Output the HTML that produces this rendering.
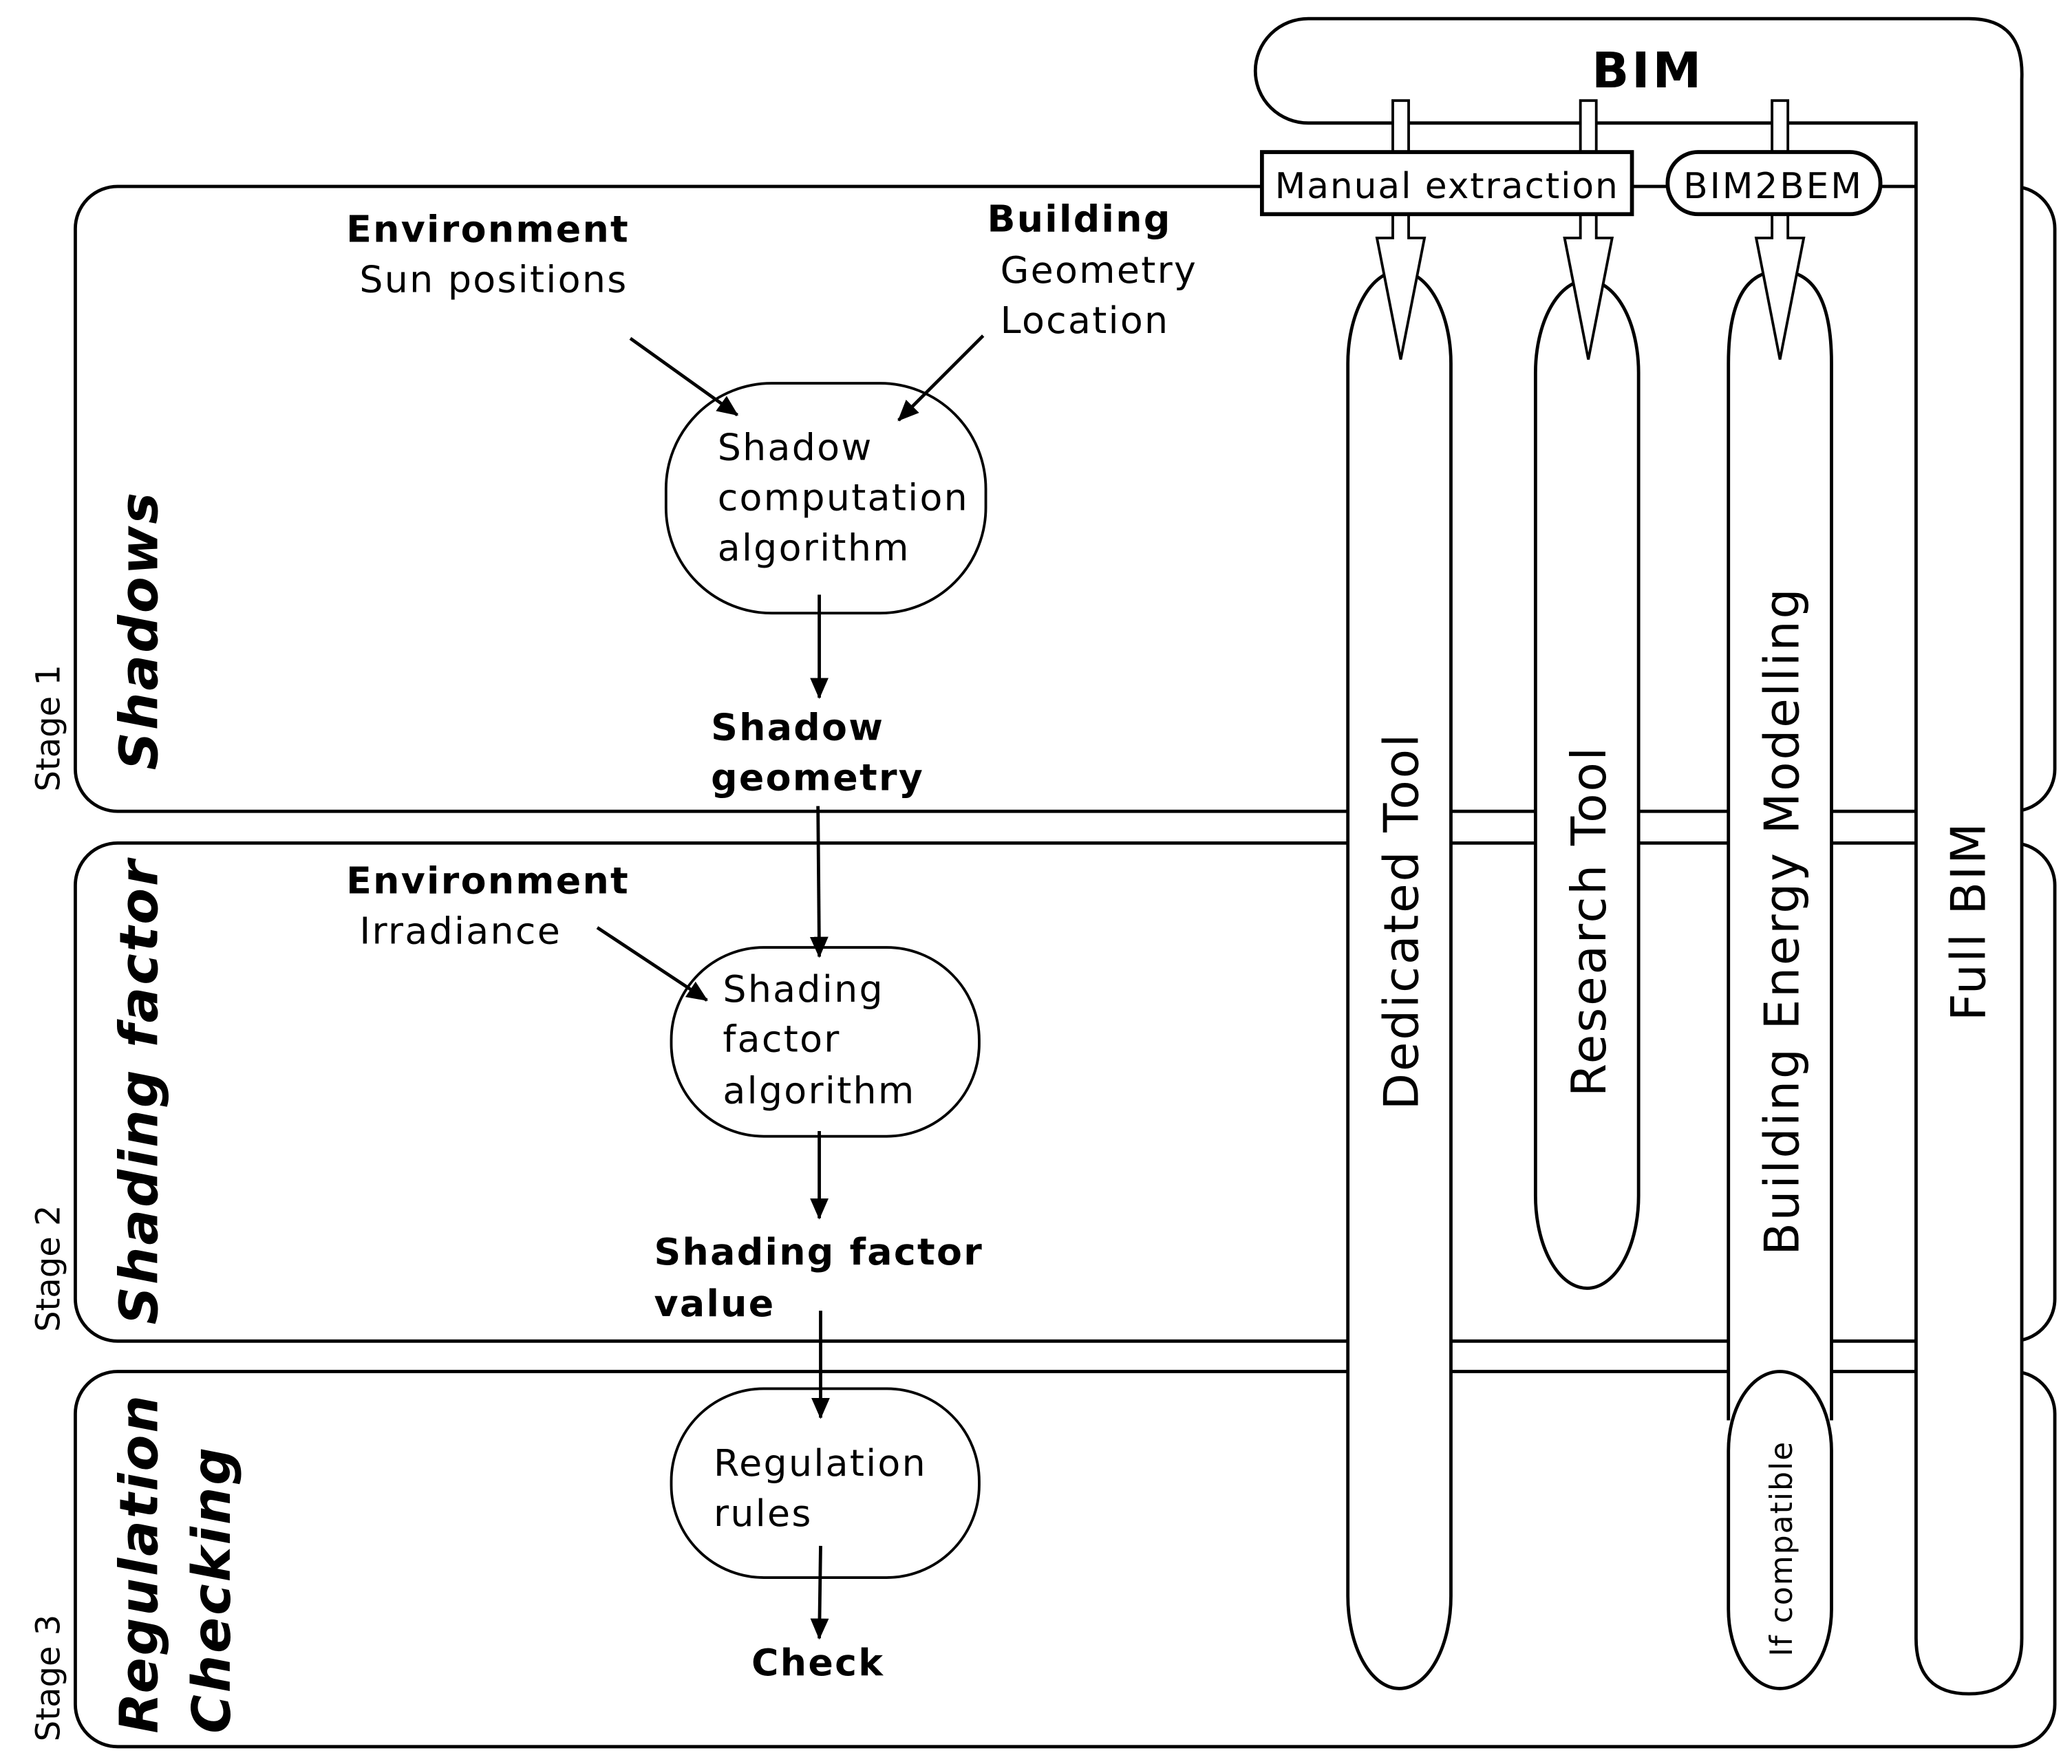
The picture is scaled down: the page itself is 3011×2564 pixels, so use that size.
<!DOCTYPE html>
<html><head><meta charset="utf-8"><style>html,body{margin:0;padding:0;background:#fff}svg{display:block}</style></head>
<body>
<svg width="3011" height="2564" viewBox="0 0 1568 1335" xmlns="http://www.w3.org/2000/svg" font-family="'DejaVu Sans','Liberation Sans',sans-serif">
<defs>
<marker id="ah2" markerWidth="16" markerHeight="16" refX="15" refY="8" orient="auto" markerUnits="userSpaceOnUse">
<path d="M0,1 L16,8 L0,15 z" fill="#000"/></marker>
</defs>
<g fill="#fff" stroke="#000" stroke-width="2.5">
<rect x="57" y="141" width="1498" height="473" rx="32"/>
<rect x="57" y="638" width="1498" height="377" rx="32"/>
<rect x="57" y="1038" width="1498" height="284" rx="32"/>
<path d="M990,14 L1490,14 Q1532,14 1530,60 L1530,1240 Q1530,1282 1490,1282 Q1450,1282 1450,1240 L1450,93 L990,93 A40,39.5 0 0 1 990,14 Z"/>
<rect x="1020" y="205" width="78" height="1073" rx="39" ry="70"/>
<rect x="1162" y="212" width="78" height="763" rx="39" ry="70"/>
<path d="M1308,1075 L1308,275 Q1308,205 1347,205 Q1386,205 1386,275 L1386,1075"/>
<rect x="1308" y="1038" width="78" height="240" rx="39" ry="60"/>
<path d="M1054,76 L1066,76 L1066,180 L1078,180 L1060,272 L1042,180 L1054,180 Z" stroke-width="2"/>
<path d="M1196,76 L1208,76 L1208,180 L1220,180 L1202,272 L1184,180 L1196,180 Z" stroke-width="2"/>
<path d="M1341,76 L1353,76 L1353,180 L1365,180 L1347,272 L1329,180 L1341,180 Z" stroke-width="2"/>
<rect x="955" y="115" width="280" height="47" stroke-width="3"/>
<rect x="1262" y="115" width="161" height="47" rx="23" stroke-width="3"/>
<rect x="504" y="290" width="242" height="174" rx="80" stroke-width="2"/>
<rect x="508" y="717" width="233" height="143" rx="70" stroke-width="2"/>
<rect x="508" y="1051" width="233" height="143" rx="70" stroke-width="2"/>
</g>
<g stroke="#000" stroke-width="2.5" fill="none">
<line x1="477" y1="256" x2="558" y2="314" marker-end="url(#ah2)"/>
<line x1="744" y1="254" x2="680" y2="318" marker-end="url(#ah2)"/>
<line x1="620" y1="450" x2="620" y2="528" marker-end="url(#ah2)"/>
<line x1="619" y1="610" x2="620" y2="724" marker-end="url(#ah2)"/>
<line x1="452" y1="702" x2="535" y2="757" marker-end="url(#ah2)"/>
<line x1="620" y1="856" x2="620" y2="922" marker-end="url(#ah2)"/>
<line x1="621" y1="992" x2="621" y2="1073" marker-end="url(#ah2)"/>
<line x1="621" y1="1170" x2="620" y2="1240" marker-end="url(#ah2)"/>
</g>
<g font-size="28" fill="#000" letter-spacing="1.2">
<text x="1247" y="66" font-size="37" font-weight="bold" text-anchor="middle" letter-spacing="2">BIM</text>
<text x="1095" y="150" font-size="27" text-anchor="middle" letter-spacing="1">Manual extraction</text>
<text x="1342" y="150" font-size="27" text-anchor="middle" letter-spacing="1.5">BIM2BEM</text>
<text x="262" y="183" font-weight="bold">Environment</text>
<text x="272" y="221">Sun positions</text>
<text x="747" y="175" font-weight="bold">Building</text>
<text x="757" y="214">Geometry</text>
<text x="757" y="252">Location</text>
<text x="543" y="348">Shadow</text>
<text x="543" y="386">computation</text>
<text x="543" y="424">algorithm</text>
<text x="538" y="560" font-weight="bold">Shadow</text>
<text x="538" y="598" font-weight="bold">geometry</text>
<text x="262" y="676" font-weight="bold">Environment</text>
<text x="272" y="714">Irradiance</text>
<text x="547" y="758">Shading</text>
<text x="547" y="796">factor</text>
<text x="547" y="835">algorithm</text>
<text x="495" y="957" font-weight="bold">Shading factor</text>
<text x="495" y="996" font-weight="bold">value</text>
<text x="540" y="1117">Regulation</text>
<text x="540" y="1155">rules</text>
<text x="619" y="1268" font-weight="bold" text-anchor="middle">Check</text>
<g letter-spacing="0">
<text transform="translate(45,551) rotate(-90)" font-size="25" text-anchor="middle">Stage 1</text>
<text transform="translate(45,960) rotate(-90)" font-size="25" text-anchor="middle">Stage 2</text>
<text transform="translate(45,1270) rotate(-90)" font-size="25" text-anchor="middle">Stage 3</text>
</g>
<g font-size="40" font-weight="bold" font-style="italic" letter-spacing="1.5">
<text transform="translate(119,477) rotate(-90)" text-anchor="middle">Shadows</text>
<text transform="translate(119,826) rotate(-90)" text-anchor="middle">Shading factor</text>
<text transform="translate(119,1312) rotate(-90)">Regulation</text>
<text transform="translate(174,1312) rotate(-90)">Checking</text>
</g>
<g font-size="36" letter-spacing="1.5">
<text transform="translate(1073,697) rotate(-90)" text-anchor="middle">Dedicated Tool</text>
<text transform="translate(1215,697) rotate(-90)" text-anchor="middle">Research Tool</text>
<text transform="translate(1361,697) rotate(-90)" text-anchor="middle">Building Energy Modelling</text>
<text transform="translate(1502,697) rotate(-90)" text-anchor="middle">Full BIM</text>
</g>
<text transform="translate(1356,1172) rotate(-90)" font-size="23" letter-spacing="1" text-anchor="middle">If compatible</text>
</g>
</svg>
</body></html>
